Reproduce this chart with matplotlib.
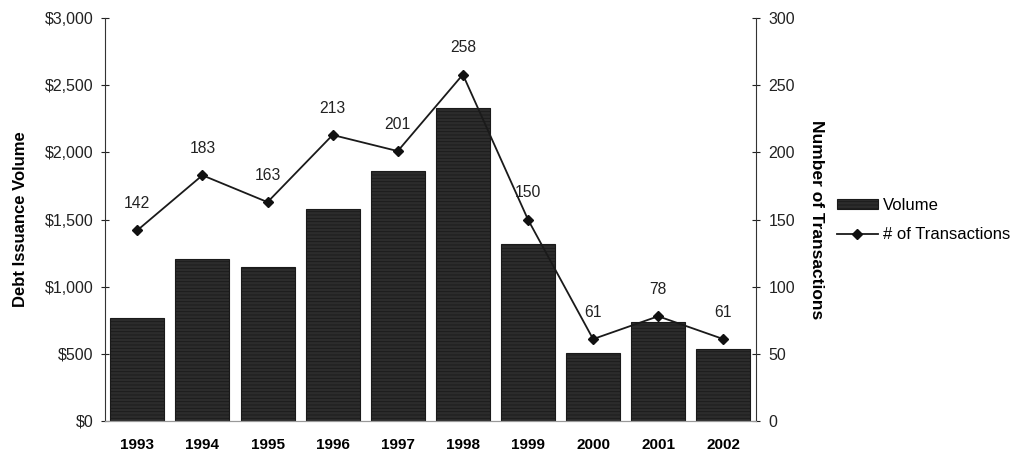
import matplotlib
matplotlib.use("Agg")
import matplotlib.pyplot as plt
from matplotlib.ticker import FuncFormatter

plt.rcParams['font.family'] = ['Liberation Sans', 'DejaVu Sans']
plt.rcParams['hatch.color'] = '#5e5e5e'
plt.rcParams['hatch.linewidth'] = 0.6

years = ['1993', '1994', '1995', '1996', '1997', '1998', '1999', '2000', '2001', '2002']
volume = [765, 1205, 1145, 1580, 1865, 2330, 1320, 505, 740, 535]
transactions = [142, 183, 163, 213, 201, 258, 150, 61, 78, 61]

fig = plt.figure(figsize=(10.27, 4.54), dpi=100)
ax = fig.add_axes([0.102, 0.0727, 0.634, 0.8873])
ax2 = ax.twinx()

x = list(range(len(years)))
bars = ax.bar(x, volume, width=0.83, color='#2c2c2c', edgecolor='#1a1a1a',
              linewidth=0.8, hatch='-----', label='Volume', zorder=2)

line, = ax2.plot(x, transactions, color='#1a1a1a', linewidth=1.3, marker='D',
                 markersize=5.5, markerfacecolor='#111111', markeredgecolor='#111111',
                 label='# of Transactions', zorder=3)
for xi, v in zip(x, transactions):
    ax2.annotate(str(v), (xi, v), xytext=(0, 14), textcoords='offset points',
                 ha='center', va='bottom', fontsize=11.3, color='#222222')

ax.set_xlim(-0.5, 9.5)
ax.set_ylim(0, 3000)
ax2.set_ylim(0, 300)
ax.set_yticks(range(0, 3001, 500))
ax2.set_yticks(range(0, 301, 50))
ax.yaxis.set_major_formatter(FuncFormatter(lambda v, p: f"${int(v):,}"))

ax.set_xticks(x)
ax.set_xticklabels(years, fontweight='bold', fontsize=11)
ax.tick_params(axis='x', length=0, pad=12)
ax.tick_params(axis='y', direction='inout', length=6, width=0.8, labelsize=11.5,
               colors='#222222', pad=5)
ax2.tick_params(axis='y', direction='inout', length=6, width=0.8, labelsize=11.5,
                colors='#222222', pad=6)

for a in (ax, ax2):
    a.spines['top'].set_visible(False)
    a.spines['left'].set_color('#333333')
    a.spines['right'].set_color('#333333')
    a.spines['bottom'].set_color('#999999')
    a.spines['bottom'].set_linewidth(0.8)
ax2.spines['left'].set_visible(False)
ax.spines['right'].set_visible(False)
ax.set_zorder(1)
ax2.set_zorder(2)
ax2.patch.set_visible(False)

ax.set_ylabel('Debt Issuance Volume', fontweight='bold', fontsize=12, labelpad=12)
ax2.set_ylabel('Number of Transactions', fontweight='bold', fontsize=12.5,
               rotation=270, labelpad=21)

fig.legend([bars, line], ['Volume', '# of Transactions'], loc='center left',
           bbox_to_anchor=(0.800, 0.515), frameon=False, fontsize=12,
           handlelength=2.5, handleheight=0.5, handletextpad=0.3, labelspacing=0.85)

fig.savefig('out.png', dpi=100)
